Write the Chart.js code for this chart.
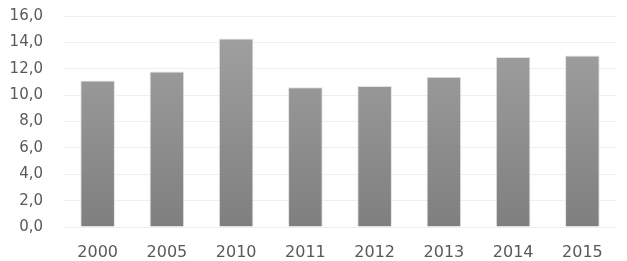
<!DOCTYPE html>
<html>
<head>
<meta charset="utf-8">
<script src="https://cdn.jsdelivr.net/npm/chart.js@4/dist/chart.umd.min.js"></script>
<style>
  html, body { margin: 0; padding: 0; background: #fff; }
  #wrap { width: 627px; height: 261px; }
</style>
</head>
<body>
<div id="wrap"><canvas id="barChart"></canvas></div>
<script>
const years = ["2000", "2005", "2010", "2011", "2012", "2013", "2014", "2015"];
const values = [11.1, 11.8, 14.3, 10.6, 10.7, 11.4, 12.9, 13.0];
const yTicks = [0, 2, 4, 6, 8, 10, 12, 14, 16];

function barFill(context) {
  const area = context.chart.chartArea;
  if (!area) return "#8c8c8c";
  const g = context.chart.ctx.createLinearGradient(0, area.top, 0, area.bottom);
  g.addColorStop(0, "#a3a3a3");
  g.addColorStop(1, "#7f7f7f");
  return g;
}

const ctx = document.getElementById("barChart").getContext("2d");
const chart = new Chart(ctx, {
  type: "bar",
  data: {
    labels: years,
    datasets: [
      {
        data: values,
        backgroundColor: barFill,
        borderColor: "#e4e4e4",
        borderWidth: 1,
        categoryPercentage: 1,
        barPercentage: 0.5,
      },
    ],
  },
  options: {
    responsive: true,
    maintainAspectRatio: false,
    animation: false,
    layout: { padding: { top: 16, right: 10, left: 0, bottom: 0 } },
    plugins: {
      legend: { display: false },
      tooltip: { enabled: false },
    },
    scales: {
      x: {
        grid: { display: false },
        border: { display: false },
        ticks: {
          color: "#595959",
          font: { family: "DejaVu Sans", size: 16 },
          padding: 8,
        },
        afterFit: (scale) => { scale.height = 34; },
      },
      y: {
        min: 0,
        max: 16,
        afterBuildTicks: (scale) => { scale.ticks = yTicks.map((v) => ({ value: v })); },
        grid: { color: "#efefef", lineWidth: 1, drawTicks: false },
        border: { display: false },
        ticks: {
          color: "#595959",
          font: { family: "DejaVu Sans", size: 15 },
          padding: 20,
          callback: (v) => v.toFixed(1).replace(".", ","),
        },
        afterFit: (scale) => {
          scale.width = 63;
          scale.paddingTop = 0;
          scale.paddingBottom = 0;
        },
      },
    },
  },
});
</script>
</body>
</html>
